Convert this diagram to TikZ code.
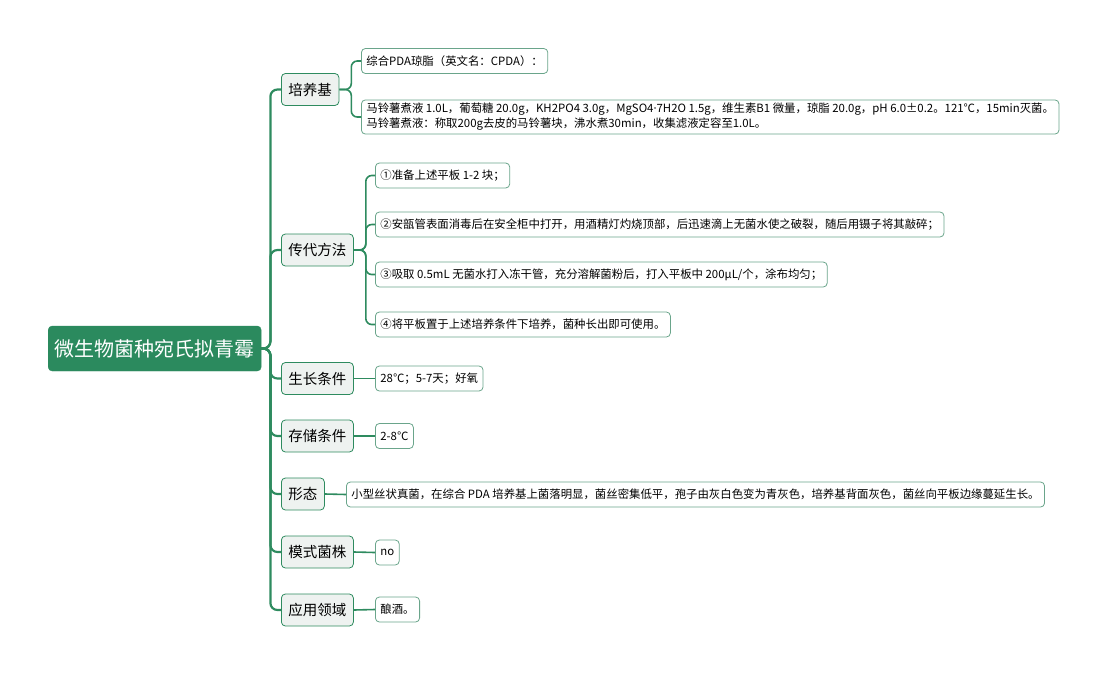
\documentclass[tikz,border=0pt]{standalone}
\usepackage{fontspec}
\setmainfont{Noto Sans CJK SC}
\newfontfamily\latfont{Noto Sans}
\usetikzlibrary{positioning}
\definecolor{rootgreen}{HTML}{2B8A5E}
\definecolor{linegreen}{HTML}{2E8B5F}
\definecolor{subfill}{HTML}{EEF2F0}
\definecolor{leafline}{HTML}{6AA58B}

\begin{document}
\begin{tikzpicture}[x=1pt, y=-1pt,
    root/.style={draw=rootgreen, fill=rootgreen, text=white, rounded corners=4pt, font=\fontsize{20}{24}\selectfont, minimum height=45pt, minimum width=213pt, anchor=west},
    sub/.style={draw=linegreen, fill=subfill, rounded corners=4pt, line width=0.8pt, font=\fontsize{14.5}{17}\selectfont, minimum height=32pt, inner xsep=7pt, anchor=west},
    leaf/.style={draw=leafline, fill=white, rounded corners=4pt, line width=0.8pt, font=\fontsize{11.4}{15}\selectfont, minimum height=25pt, inner xsep=5pt, anchor=west, align=left},
    trunk/.style={draw=linegreen, line width=2.2pt, rounded corners=7pt},
    link/.style={draw=linegreen, line width=1.6pt, rounded corners=6pt}]
    % 0. 画布大小
    \useasboundingbox (0,0) rectangle (1119,675);

    % 1. 根节点
    \node[root] (root) at (48,348.5) {微生物菌种宛氏拟青霉};

    % 2. 一级节点
    \node[sub] (pyj) at (281,89.5) {培养基};
    \node[sub] (cd)  at (281,250)  {传代方法};
    \node[sub] (szh) at (281,378.5) {生长条件};
    \node[sub] (cc)  at (281,436)  {存储条件};
    \node[sub] (xt)  at (281,494)  {形态};
    \node[sub] (ms)  at (281,552)  {模式菌株};
    \node[sub] (yy)  at (281,610)  {应用领域};

    % 3. 二级节点
    % 培养基
    \node[leaf] (pyj1) at (361,61) {综合PDA琼脂（英文名：CPDA）：};
    \node[leaf] (pyj2) at (361,117) {马铃薯煮液 1.0L，葡萄糖 20.0g，KH2PO4 3.0g，MgSO4{\latfont ·}7H2O 1.5g，维生素B1 微量，琼脂 20.0g，pH 6.0±0.2。121℃，15min灭菌。\\马铃薯煮液：称取200g去皮的马铃薯块，沸水煮30min，收集滤液定容至1.0L。};
    % 传代方法
    \node[leaf] (cd1) at (375,175.5) {①准备上述平板 1-2 块；};
    \node[leaf] (cd2) at (375,224.5) {②安瓿管表面消毒后在安全柜中打开，用酒精灯灼烧顶部，后迅速滴上无菌水使之破裂，随后用镊子将其敲碎；};
    \node[leaf] (cd3) at (375,274.5) {③吸取 0.5mL 无菌水打入冻干管，充分溶解菌粉后，打入平板中 200μL/个，涂布均匀；};
    \node[leaf] (cd4) at (375,324.5) {④将平板置于上述培养条件下培养，菌种长出即可使用。};
    % 其余
    \node[leaf] (szh1) at (375,378.5) {28℃；5-7天；好氧};
    \node[leaf] (cc1)  at (375,436)  {2-8℃};
    \node[leaf] (xt1)  at (346,494.5) {小型丝状真菌，在综合 PDA 培养基上菌落明显，菌丝密集低平，孢子由灰白色变为青灰色，培养基背面灰色，菌丝向平板边缘蔓延生长。};
    \node[leaf] (ms1)  at (375,552.5) {no};
    \node[leaf] (yy1)  at (375,609.5) {酿酒。};

    % 4. 连线
    \foreach \c in {pyj,cd,szh,cc,xt,ms,yy}
        \draw[trunk] (root.east) -- ++(9,0) |- (\c.west);
    \foreach \c in {pyj1,pyj2}
        \draw[link] (pyj.east) -- ++(12,0) |- (\c.west);
    \foreach \c in {cd1,cd2,cd3,cd4}
        \draw[link] (cd.east) -- ++(12,0) |- (\c.west);
    \draw[link] (szh.east) -- (szh1.west);
    \draw[link] (cc.east) -- (cc1.west);
    \draw[link] (xt.east) -- (xt1.west);
    \draw[link] (ms.east) -- (ms1.west);
    \draw[link] (yy.east) -- (yy1.west);
\end{tikzpicture}
\end{document}
